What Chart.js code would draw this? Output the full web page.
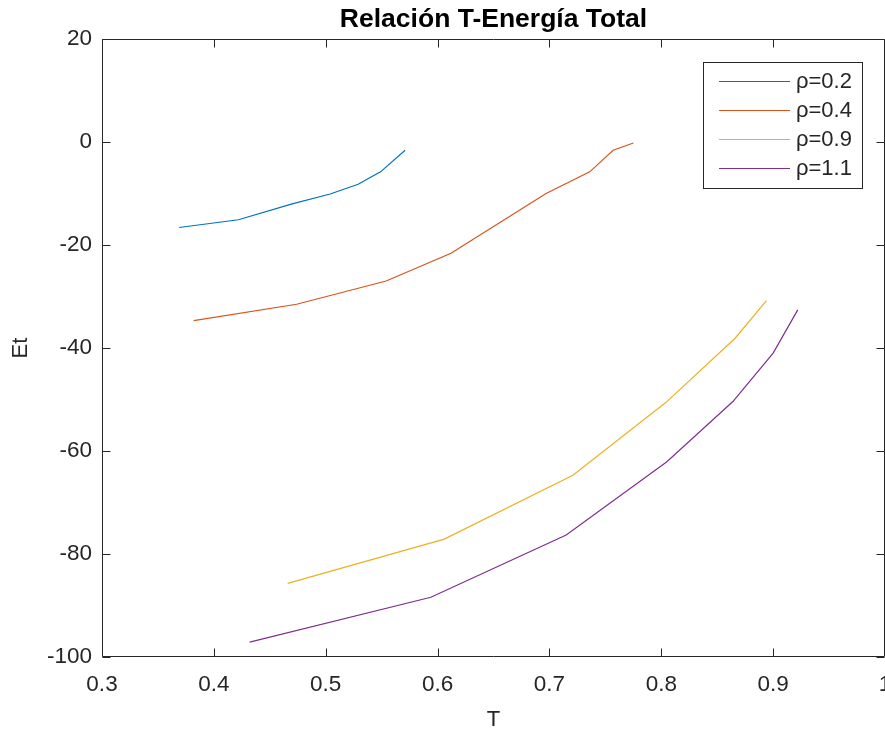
<!DOCTYPE html>
<html>
<head>
<meta charset="utf-8">
<script src="https://cdn.jsdelivr.net/npm/chart.js@4.4.0/dist/chart.umd.min.js"></script>
<style>
  html, body { margin: 0; padding: 0; background: #fff; }
  #wrap { width: 885px; height: 731px; }
</style>
</head>
<body>
<div id="wrap"><canvas id="grafico" width="885" height="731"></canvas></div>
<script>
// datos
const etiquetas = ['ρ=0.2', 'ρ=0.4', 'ρ=0.9', 'ρ=1.1'];
const colores = ['#0072BD', '#D95319', '#EDB120', '#7E2F8E'];

const T_02 = [0.369, 0.422, 0.470, 0.504, 0.529, 0.549, 0.571];
const E_02 = [-16.6, -15.1, -12.0, -10.1, -8.2, -5.8, -1.6];

const T_04 = [0.382, 0.474, 0.554, 0.612, 0.697, 0.736, 0.757, 0.775];
const E_04 = [-34.7, -31.5, -27.0, -21.6, -10.0, -5.8, -1.6, -0.2];

const T_09 = [0.466, 0.606, 0.721, 0.804, 0.866, 0.894];
const E_09 = [-85.7, -77.1, -64.7, -50.6, -38.1, -30.8];

const T_11 = [0.432, 0.594, 0.715, 0.805, 0.864, 0.900, 0.922];
const E_11 = [-97.1, -88.4, -76.3, -62.1, -50.4, -41.0, -32.6];

const ticksX = [0.3, 0.4, 0.5, 0.6, 0.7, 0.8, 0.9, 1];
const ticksY = [20, 0, -20, -40, -60, -80, -100];

const series = [[T_02, E_02], [T_04, E_04], [T_09, E_09], [T_11, E_11]];

function puntos(xs, ys) {
    return xs.map((x, i) => ({ x: x, y: ys[i] }));
}

const gris = '#262626';

// caja de ejes con marcas hacia dentro, como en matlab
const cajaEjes = {
    id: 'cajaEjes',
    afterDraw(chart) {
        const ctx = chart.ctx;
        const a = chart.chartArea;
        const sx = chart.scales.x, sy = chart.scales.y;
        const L = Math.round(a.left) + 0.5, R = Math.round(a.right) - 0.5;
        const T = Math.round(a.top) + 0.5, B = Math.round(a.bottom) - 0.5;
        ctx.save();
        ctx.strokeStyle = gris;
        ctx.lineWidth = 1;
        ctx.beginPath();
        ctx.rect(L, T, R - L, B - T);
        ticksX.forEach(v => {
            const px = Math.round(sx.getPixelForValue(v)) + 0.5;
            ctx.moveTo(px, B); ctx.lineTo(px, B - 8);
            ctx.moveTo(px, T); ctx.lineTo(px, T + 8);
        });
        ticksY.forEach(v => {
            const py = Math.round(sy.getPixelForValue(v)) + 0.5;
            ctx.moveTo(L, py); ctx.lineTo(L + 8, py);
            ctx.moveTo(R, py); ctx.lineTo(R - 8, py);
        });
        ctx.stroke();

        // leyenda
        const lx = a.right - 182, ly = a.top + 23, lw = 159, lh = 126;
        ctx.fillStyle = '#fff';
        ctx.fillRect(lx, ly, lw, lh);
        ctx.strokeStyle = gris;
        ctx.strokeRect(lx + 0.5, ly + 0.5, lw, lh);
        ctx.font = '22px "Liberation Sans", Arial, sans-serif';
        ctx.textBaseline = 'middle';
        ctx.textAlign = 'left';
        chart.data.datasets.forEach((ds, i) => {
            const yy = ly + 19 + i * 29;
            ctx.strokeStyle = ds.borderColor;
            ctx.beginPath();
            ctx.moveTo(lx + 16, yy + 0.5);
            ctx.lineTo(lx + 87, yy + 0.5);
            ctx.stroke();
            ctx.fillStyle = gris;
            ctx.fillText(ds.label, lx + 93, yy + 1);
        });
        ctx.restore();
    }
};

new Chart(document.getElementById('grafico'), {
    type: 'scatter',
    data: {
        datasets: series.map((s, i) => ({
            label: etiquetas[i],
            data: puntos(s[0], s[1]),
            showLine: true,
            borderColor: colores[i],
            backgroundColor: colores[i],
            borderWidth: 1.2,
            pointRadius: 0,
            tension: 0
        }))
    },
    options: {
        responsive: false,
        devicePixelRatio: 1,
        animation: false,
        layout: { padding: 0 },
        plugins: {
            legend: { display: false },
            tooltip: { enabled: false },
            title: {
                display: true,
                text: 'Relación T-Energía Total',
                fullSize: false,
                color: '#000',
                font: { family: '"Liberation Sans", Arial, sans-serif', size: 26.5, weight: 'bold', lineHeight: 1.2 },
                padding: { top: 4, bottom: 3.2 }
            }
        },
        scales: {
            x: {
                type: 'linear',
                min: 0.3,
                max: 1,
                border: { display: false },
                grid: { display: false, drawTicks: false },
                afterBuildTicks: (s) => { s.ticks = ticksX.map(v => ({ value: v })); },
                afterFit: (s) => { s.height = 74; s.paddingLeft = 0; s.paddingRight = 0; },
                ticks: {
                    color: gris,
                    padding: 14,
                    maxRotation: 0,
                    autoSkip: false,
                    font: { family: '"Liberation Sans", Arial, sans-serif', size: 22.5 },
                    callback: (v) => String(v)
                },
                title: {
                    display: true,
                    text: 'T',
                    color: gris,
                    font: { family: '"Liberation Sans", Arial, sans-serif', size: 22, lineHeight: 1 },
                    padding: { top: 0, bottom: 0 }
                }
            },
            y: {
                type: 'linear',
                min: -100,
                max: 20,
                border: { display: false },
                grid: { display: false, drawTicks: false },
                afterBuildTicks: (s) => { s.ticks = ticksY.slice().reverse().map(v => ({ value: v })); },
                afterFit: (s) => { s.width = 102; s.paddingTop = 0; s.paddingBottom = 0; },
                ticks: {
                    color: gris,
                    padding: 10,
                    autoSkip: false,
                    font: { family: '"Liberation Sans", Arial, sans-serif', size: 22.5 },
                    callback: (v) => String(v)
                },
                title: {
                    display: true,
                    text: 'Et',
                    color: gris,
                    font: { family: '"Liberation Sans", Arial, sans-serif', size: 22, lineHeight: 1 },
                    padding: { top: 10, bottom: 0 }
                }
            }
        }
    },
    plugins: [cajaEjes]
});
</script>
</body>
</html>
